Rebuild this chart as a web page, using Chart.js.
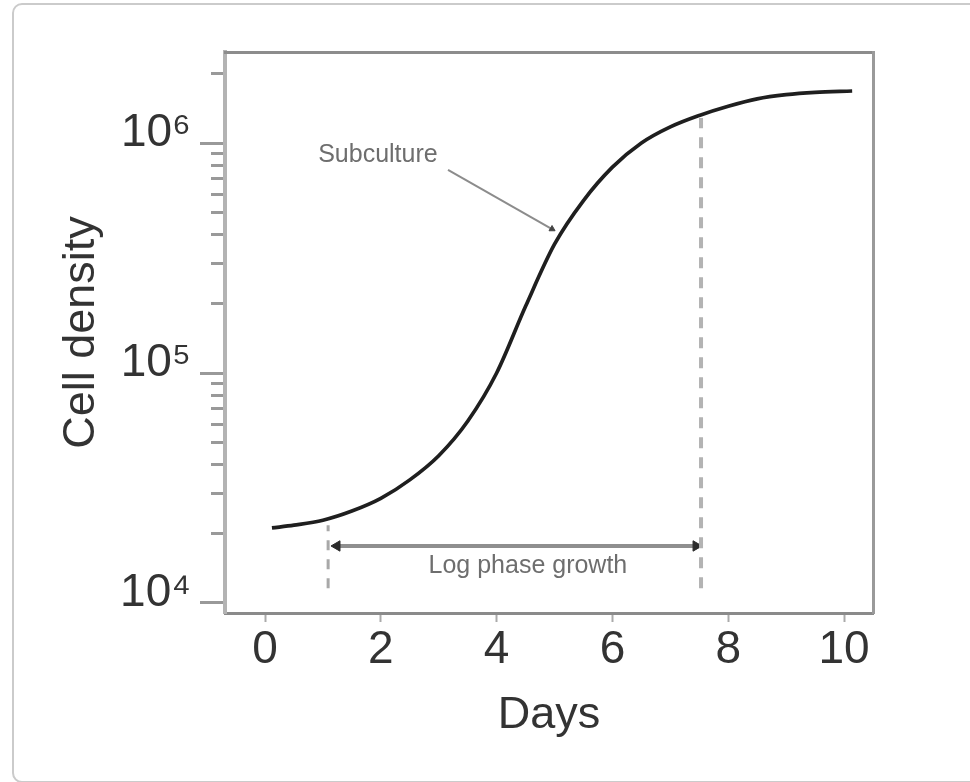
<!DOCTYPE html>
<html>
<head>
<meta charset="utf-8">
<script src="https://cdn.jsdelivr.net/npm/chart.js@4.4.1/dist/chart.umd.min.js"></script>
<style>
  html, body { margin: 0; padding: 0; background: #ffffff; overflow: hidden; }
  #wrap { position: relative; width: 970px; height: 782px; overflow: hidden; }
  #frame { position: absolute; left: 12px; top: 3px; width: 1000px; height: 776px;
           border: 2px solid #cbcbcb; border-radius: 10px; }
  canvas { position: absolute; left: 0; top: 0; }
</style>
</head>
<body>
<div id="wrap">
  <div id="frame"></div>
  <canvas id="chart" width="970" height="782"></canvas>
</div>
<script>
// ---------- data ----------
const days        = [0.12, 0.5, 1.0, 1.5, 2.0, 2.5, 3.0, 3.5, 4.0, 4.5, 5.0, 5.5, 6.0, 6.5, 7.0, 7.5, 8.0, 8.5, 9.0, 9.5, 10.14];
const cellDensity = [21200, 21800, 22900, 25100, 28500, 34300, 43700, 61700, 100000, 195000, 363000, 562000,
                     785000, 1000000, 1175000, 1318000, 1445000, 1556000, 1622000, 1660000, 1683000];

const xTickValues   = [0, 2, 4, 6, 8, 10];
const xTickLabels   = ['0', '2', '4', '6', '8', '10'];
const yTickValues   = [10000, 20000, 30000, 40000, 50000, 60000, 70000, 80000, 90000,
                       100000, 200000, 300000, 400000, 500000, 600000, 700000, 800000, 900000,
                       1000000, 2000000];
const yMajorValues  = [10000, 100000, 1000000];
const yMajorLabels  = ['10\u2074', '10\u2075', '10\u2076'];

// annotation anchors (data units)
const logPhaseStart   = 1.09;
const logPhaseEnd     = 7.53;
const dashBottom      = 11600;
const dashTopStart    = 21800;
const dashTopEnd      = 1285000;
const arrowDays       = [1.243, 7.444];
const arrowLevel      = 17700;
const logPhaseLabel   = { text: 'Log phase growth', x: 4.54, y: 14500 };
const subcultureLabel = { text: 'Subculture', x: 1.95, y: 887000 };
const subcultureLine  = { x: [3.16, 4.957], y: [764000, 422700] };

const X_MIN = -0.691, X_MAX = 10.5;
const Y_MIN = 9047,   Y_MAX = 2487000;

const FONT = '"Liberation Sans", Arial, Helvetica, sans-serif';
const isMajor = v => yMajorValues.indexOf(v) !== -1;

const textPlugin = {
  id: 'textLabels',
  afterDatasetsDraw(chart) {
    const ctx = chart.ctx, xs = chart.scales.x, ys = chart.scales.y;
    ctx.save();
    ctx.font = '25px ' + FONT;
    ctx.textAlign = 'center';
    ctx.textBaseline = 'middle';
    ctx.fillStyle = '#6e6e6e';
    [logPhaseLabel, subcultureLabel].forEach(l => {
      ctx.fillText(l.text, xs.getPixelForValue(l.x), ys.getPixelForValue(l.y));
    });
    ctx.restore();
  }
};

new Chart(document.getElementById('chart'), {
  type: 'line',
  data: {
    datasets: [
      { label: 'Cell density',
        data: days.map((d, i) => ({ x: d, y: cellDensity[i] })),
        borderColor: '#1f1f1f', borderWidth: 3.7, pointRadius: 0,
        cubicInterpolationMode: 'monotone', fill: false },
      { label: 'start',
        data: [{ x: logPhaseStart, y: dashBottom }, { x: logPhaseStart, y: dashTopStart }],
        borderColor: '#a8a8a8', borderWidth: 3, borderDash: [10, 9], pointRadius: 0 },
      { label: 'end',
        data: [{ x: logPhaseEnd, y: dashBottom }, { x: logPhaseEnd, y: dashTopEnd }],
        borderColor: '#b3b3b3', borderWidth: 4, borderDash: [11, 9], pointRadius: 0 },
      { label: 'arrow',
        data: arrowDays.map(d => ({ x: d, y: arrowLevel })),
        borderColor: '#8f8f8f', borderWidth: 4,
        pointStyle: 'triangle', pointRotation: [270, 90], pointRadius: 6,
        pointBackgroundColor: '#2b2b2b', pointBorderColor: '#2b2b2b', pointBorderWidth: 1 },
      { label: 'subculture',
        data: subcultureLine.x.map((d, i) => ({ x: d, y: subcultureLine.y[i] })),
        borderColor: '#8c8c8c', borderWidth: 2,
        pointStyle: 'triangle', pointRotation: [0, 120], pointRadius: [0, 3.5],
        pointBackgroundColor: '#444', pointBorderColor: '#444', pointBorderWidth: 1 }
    ]
  },
  options: {
    responsive: false,
    animation: false,
    layout: { padding: { left: 0, top: 52, right: 97, bottom: 0 } },
    plugins: { legend: { display: false }, tooltip: { enabled: false } },
    scales: {
      x: {
        type: 'linear', position: 'bottom', min: X_MIN, max: X_MAX,
        afterBuildTicks: s => { s.ticks = xTickValues.map(v => ({ value: v })); },
        afterFit: s => { s.height = 169; },
        ticks: { font: { family: FONT, size: 46 }, color: '#333', padding: 1,
                 autoSkip: false, maxRotation: 0,
                 callback: v => xTickLabels[xTickValues.indexOf(v)] },
        grid: { drawOnChartArea: false, drawTicks: true, tickLength: 9, tickWidth: 2, tickColor: '#aaaaaa' },
        border: { display: true, color: '#8a8a8a', width: 3 },
        title: { display: true, text: 'Days', color: '#333',
                 font: { family: FONT, size: 45 }, padding: { top: 0, bottom: 39 } }
      },
      y: {
        type: 'logarithmic', position: 'left', min: Y_MIN, max: Y_MAX,
        afterBuildTicks: s => { s.ticks = yTickValues.map(v => ({ value: v })); },
        afterFit: s => { s.width = 225; },
        ticks: { font: { family: FONT, size: 46 }, color: '#333', padding: 9, labelOffset: -10,
                 autoSkip: false,
                 callback: v => isMajor(v) ? yMajorLabels[yMajorValues.indexOf(v)] : '' },
        grid: { drawOnChartArea: false, drawTicks: true, tickLength: 25, tickWidth: 3,
                tickColor: '#999999',
                tickBorderDash: c => (c.tick && isMajor(c.tick.value)) ? [] : [0, 11, 100] },
        border: { display: true, color: '#b3b3b3', width: 4 },
        title: { display: true, text: 'Cell density', color: '#333',
                 font: { family: FONT, size: 45 }, padding: { top: 55, bottom: 0 } }
      },
      x2: {
        type: 'linear', position: 'top', min: X_MIN, max: X_MAX,
        afterFit: s => { s.height = 0; },
        ticks: { display: false },
        grid: { drawOnChartArea: false, drawTicks: false },
        border: { display: true, color: '#8c8c8c', width: 3 }
      },
      y2: {
        type: 'linear', position: 'right', min: 0, max: 1,
        afterFit: s => { s.width = 0; },
        ticks: { display: false },
        grid: { drawOnChartArea: false, drawTicks: false },
        border: { display: true, color: '#9a9a9a', width: 3 }
      }
    }
  },
  plugins: [textPlugin]
});
</script>
</body>
</html>
